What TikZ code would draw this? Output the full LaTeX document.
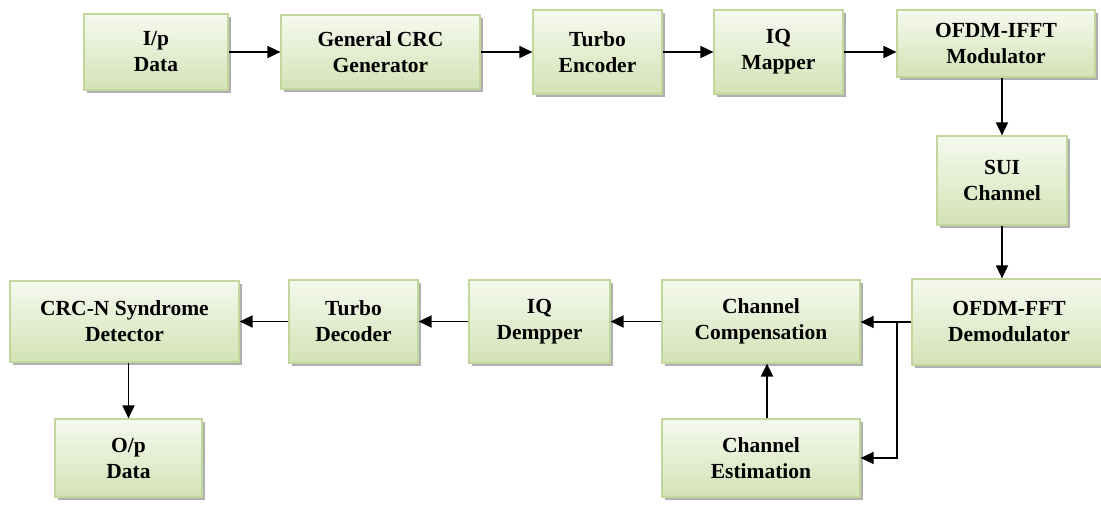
\documentclass[tikz,border=0pt]{standalone}
\usepackage{fontspec}
\setmainfont{Liberation Serif}
\usetikzlibrary{arrows.meta,shadows}
\definecolor{boxtop}{HTML}{F6F9EF}
\definecolor{boxbot}{HTML}{D3E2B5}
\definecolor{boxline}{HTML}{C3D69B}
\tikzset{
  blockbox/.style={draw=boxline, line width=1.2pt, top color=boxtop, bottom color=boxbot,
    inner sep=0pt, align=center, font=\fontsize{21.5}{26}\selectfont\bfseries,
    drop shadow={shadow xshift=3pt, shadow yshift=-3pt, fill=black!35, opacity=0.9}},
  flow/.style={line width=1.8pt, -{Triangle[length=13pt,width=12pt]}}
}
\newcommand{\blk}[7]{% name, x1, x2, y1, y2, text
  \node[blockbox, minimum width={#3-#2}, minimum height={#5-#4}] (#1) at ({(#2+#3)/2},{(#4+#5)/2}) {#6};}
\begin{document}
\begin{tikzpicture}[x=1pt,y=-1pt]
\useasboundingbox (0,0) rectangle (1101,507);
\blk{inp}{84}{228}{14}{90}{I/p\\Data}{}
\blk{crc}{281}{480}{15}{89}{General CRC\\Generator}{}
\blk{tenc}{533}{662}{10}{94}{Turbo\\Encoder}{}
\blk{iqm}{714}{843}{10}{94}{IQ\\Mapper}{}
\blk{ofdmi}{897}{1095}{10}{77}{OFDM-IFFT\\Modulator}{}
\blk{sui}{937}{1067}{136}{225}{SUI\\Channel}{}
\blk{ofdmf}{912}{1106}{279}{365}{OFDM-FFT\\Demodulator}{}
\blk{comp}{662}{860}{280}{363}{Channel\\Compensation}{}
\blk{est}{662}{860}{419}{497}{Channel\\Estimation}{}
\blk{iqd}{469}{610}{280}{363}{IQ\\Dempper}{}
\blk{tdec}{289}{418}{280}{363}{Turbo\\Decoder}{}
\blk{crcn}{10}{239}{281}{362}{CRC-N Syndrome\\Detector}{}
\blk{outp}{55}{202}{419}{497}{O/p\\Data}{}

\draw[flow] (inp.east) -- (inp.east -| crc.west);
\draw[flow] (crc.east) -- (crc.east -| tenc.west);
\draw[flow] (tenc.east) -- (tenc.east -| iqm.west);
\draw[flow] (iqm.east) -- (iqm.east -| ofdmi.west);
\draw[flow] (sui.north |- ofdmi.south) -- (sui.north);
\draw[flow] (sui.south) -- (sui.south |- ofdmf.north);
\coordinate (br) at (897,322);
\draw[flow] (ofdmf.west |- br) -- (comp.east |- br);
\draw[flow] (br) |- (est.east);
\draw[flow] ([xshift=6pt]est.north) -- ([xshift=6pt]comp.south);
\draw[flow] (comp.west) -- (comp.west -| iqd.east);
\draw[flow] (iqd.west) -- (iqd.west -| tdec.east);
\draw[flow] (tdec.west) -- (tdec.west -| crcn.east);
\draw[flow] (outp.north |- crcn.south) -- (outp.north);
\end{tikzpicture}
\end{document}
